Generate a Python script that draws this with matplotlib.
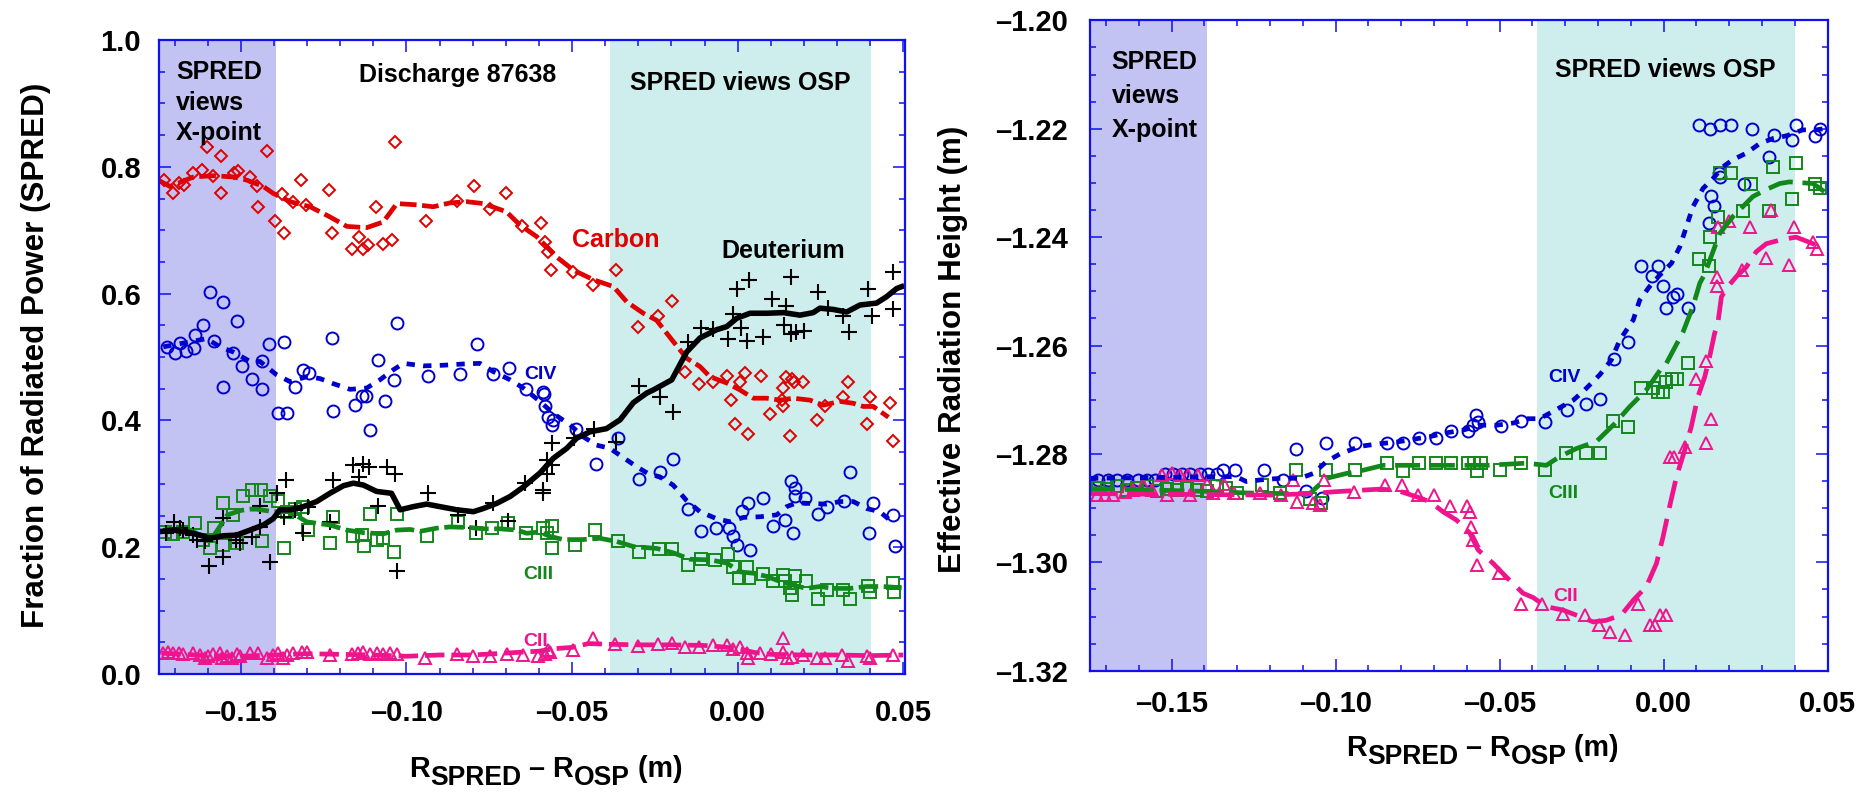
import matplotlib
matplotlib.use('Agg')
import matplotlib.pyplot as plt
from matplotlib.ticker import MultipleLocator

plt.rcParams['lines.scale_dashes'] = False
NARROW = ['Liberation Sans Narrow', 'Liberation Sans', 'DejaVu Sans']
REG = ['Liberation Sans', 'DejaVu Sans']

# ---------------- data: left panel (fraction of radiated power) ----------------
carbon_x = [-0.1732,-0.1706,-0.1688,-0.1670,-0.1643,-0.1618,-0.1601,-0.1585,-0.1561,-0.1560,-0.1522,-0.1507,-0.1472,-0.1450,-0.1449,-0.1422,-0.1397,-0.1375,-0.1371,-0.1341,-0.1318,-0.1303,-0.1234,-0.1224,-0.1165,-0.1142,-0.1132,-0.1117,-0.1091,-0.1070,-0.1043,-0.1034,-0.0941,-0.0848,-0.0796,-0.0748,-0.0699,-0.0650,-0.0594,-0.0582,-0.0574,-0.0565,-0.0498,-0.0436,-0.0368,-0.0302,-0.0240,-0.0199,-0.0159,-0.0116,-0.0076,-0.0033,0.0007,0.0022,0.0070,-0.0020,-0.0008,0.0032,0.0097,0.0133,0.0138,0.0138,0.0146,0.0163,0.0170,0.0198,0.0158,0.0238,0.0263,0.0317,0.0332,0.0389,0.0399,0.0460,0.0468]
carbon_y = [0.779,0.759,0.774,0.771,0.790,0.795,0.831,0.786,0.817,0.758,0.790,0.794,0.784,0.769,0.736,0.825,0.715,0.757,0.696,0.744,0.779,0.739,0.763,0.696,0.671,0.689,0.671,0.677,0.736,0.678,0.685,0.839,0.715,0.746,0.770,0.733,0.758,0.706,0.712,0.682,0.666,0.637,0.634,0.614,0.637,0.548,0.565,0.588,0.477,0.457,0.460,0.470,0.460,0.474,0.470,0.432,0.394,0.378,0.410,0.432,0.451,0.422,0.469,0.466,0.461,0.461,0.375,0.401,0.422,0.437,0.461,0.394,0.437,0.427,0.368]
carbon_fit_x = [-0.1749,-0.1714,-0.1643,-0.1583,-0.1522,-0.1482,-0.1432,-0.1402,-0.1351,-0.1291,-0.1231,-0.1180,-0.1120,-0.1070,-0.1029,-0.0969,-0.0919,-0.0869,-0.0818,-0.0768,-0.0698,-0.0657,-0.0607,-0.0547,-0.0496,-0.0436,-0.0375,-0.0335,-0.0285,-0.0245,-0.0194,-0.0154,-0.0114,-0.0084,-0.0033,0.0007,0.0047,0.0087,0.0128,0.0168,0.0218,0.0258,0.0309,0.0349,0.0379,0.0409,0.0455]
carbon_fit_y = [0.779,0.769,0.784,0.786,0.784,0.779,0.769,0.758,0.745,0.737,0.721,0.706,0.704,0.713,0.742,0.740,0.737,0.743,0.745,0.742,0.729,0.708,0.690,0.658,0.637,0.622,0.611,0.587,0.569,0.558,0.524,0.498,0.485,0.469,0.459,0.448,0.435,0.435,0.432,0.435,0.432,0.424,0.430,0.427,0.422,0.422,0.405]

civ_x = [-0.1724,-0.1699,-0.1683,-0.1665,-0.1640,-0.1638,-0.1613,-0.1593,-0.1581,-0.1555,-0.1523,-0.1510,-0.1437,-0.1414,-0.1370,-0.1226,-0.1027,-0.0788,-0.0690,
         -0.1497,-0.1465,-0.1437,-0.1555,-0.1389,-0.1361,-0.1336,-0.1311,-0.1294,-0.1221,-0.1155,-0.1135,-0.1122,-0.1110,-0.1085,-0.1065,-0.1039,-0.0936,-0.0838,-0.0738,-0.0640,-0.0589,-0.0584,-0.0582,-0.0572,-0.0557,-0.0562,-0.0489,-0.0428,-0.0362,-0.0298,
         -0.0235,-0.0196,-0.0149,-0.0111,-0.0066,-0.0027,-0.0013,-0.0003,0.0037,0.0012,0.0030,0.0077,0.0107,0.0143,0.0166,0.0160,0.0173,0.0173,0.0203,0.0243,0.0270,0.0321,0.0339,0.0397,0.0407,0.0470,0.0475]
civ_y = [0.516,0.506,0.522,0.510,0.514,0.534,0.551,0.603,0.526,0.586,0.507,0.556,0.493,0.520,0.523,0.530,0.553,0.520,0.482,
         0.486,0.465,0.449,0.452,0.412,0.412,0.452,0.480,0.474,0.415,0.424,0.439,0.439,0.385,0.495,0.430,0.463,0.470,0.473,0.473,0.449,0.445,0.441,0.422,0.406,0.401,0.393,0.386,0.331,0.372,0.308,
         0.318,0.339,0.260,0.226,0.230,0.230,0.217,0.203,0.196,0.257,0.270,0.277,0.233,0.243,0.223,0.304,0.293,0.280,0.277,0.253,0.264,0.273,0.318,0.223,0.270,0.251,0.202]
civ_fit_x = [-0.1734,-0.1673,-0.1603,-0.1563,-0.1523,-0.1472,-0.1442,-0.1392,-0.1351,-0.1301,-0.1261,-0.1221,-0.1170,-0.1120,-0.1080,-0.1039,-0.1009,-0.0949,-0.0889,-0.0828,-0.0778,-0.0738,-0.0687,-0.0647,-0.0597,-0.0557,-0.0506,-0.0466,-0.0426,-0.0386,-0.0350,-0.0305,-0.0270,-0.0235,-0.0195,-0.0155,-0.0114,-0.0064,-0.0023,0.0017,0.0067,0.0118,0.0148,0.0178,0.0218,0.0268,0.0309,0.0349,0.0389,0.0429,0.0470]
civ_fit_y = [0.516,0.522,0.529,0.516,0.508,0.493,0.493,0.472,0.461,0.469,0.466,0.458,0.449,0.451,0.464,0.480,0.490,0.486,0.487,0.489,0.490,0.477,0.464,0.451,0.430,0.411,0.393,0.374,0.361,0.356,0.343,0.327,0.316,0.311,0.298,0.274,0.256,0.245,0.240,0.247,0.248,0.251,0.264,0.270,0.269,0.268,0.272,0.272,0.261,0.256,0.238]

deut_x = [-0.1726,-0.1702,-0.1684,-0.1673,-0.1643,-0.1633,-0.1608,-0.1595,-0.1573,-0.1555,-0.1553,-0.1514,-0.1502,-0.1467,-0.1442,-0.1442,-0.1413,-0.1391,-0.1363,-0.1371,-0.1336,-0.1311,-0.1296,-0.1221,-0.1231,-0.1160,-0.1130,-0.1142,-0.1112,-0.1085,-0.1060,-0.1036,-0.1029,-0.0936,-0.0843,-0.0790,-0.0740,-0.0692,-0.0642,-0.0587,-0.0589,-0.0577,-0.0577,-0.0562,-0.0562,-0.0493,-0.0433,-0.0366,-0.0298,
          -0.0235,-0.0196,-0.0151,-0.0111,-0.0074,-0.0028,-0.0013,-0.0003,0.0009,0.0027,0.0035,0.0075,0.0105,0.0141,0.0146,0.0161,0.0161,0.0176,0.0201,0.0243,0.0273,0.0319,0.0337,0.0394,0.0404,0.0470,0.0468]
deut_y = [0.222,0.239,0.230,0.227,0.219,0.211,0.209,0.170,0.217,0.184,0.246,0.212,0.206,0.216,0.265,0.232,0.177,0.286,0.306,0.247,0.259,0.222,0.264,0.306,0.239,0.330,0.332,0.311,0.327,0.265,0.326,0.316,0.163,0.285,0.251,0.230,0.269,0.241,0.301,0.290,0.285,0.316,0.337,0.330,0.365,0.372,0.386,0.366,0.454,
          0.437,0.414,0.523,0.545,0.544,0.529,0.568,0.608,0.545,0.526,0.622,0.532,0.591,0.551,0.580,0.626,0.536,0.540,0.541,0.602,0.577,0.564,0.540,0.607,0.564,0.634,0.575]
deut_fit_x = [-0.1739,-0.1704,-0.1663,-0.1623,-0.1593,-0.1553,-0.1513,-0.1472,-0.1432,-0.1402,-0.1382,-0.1351,-0.1311,-0.1271,-0.1231,-0.1190,-0.1160,-0.1130,-0.1090,-0.1045,-0.1019,-0.0979,-0.0939,-0.0899,-0.0848,-0.0798,-0.0768,-0.0728,-0.0687,-0.0647,-0.0597,-0.0557,-0.0516,-0.0486,-0.0446,-0.0396,-0.0355,-0.0315,-0.0275,-0.0255,-0.0199,-0.0154,-0.0114,-0.0064,-0.0033,-0.0003,0.0037,0.0087,0.0138,0.0188,0.0228,0.0248,0.0288,0.0329,0.0369,0.0419,0.0449,0.0480,0.0495]
deut_fit_y = [0.225,0.227,0.224,0.219,0.214,0.218,0.219,0.227,0.235,0.245,0.259,0.259,0.264,0.272,0.285,0.297,0.301,0.298,0.288,0.285,0.259,0.264,0.268,0.264,0.259,0.256,0.261,0.269,0.280,0.295,0.317,0.340,0.356,0.372,0.382,0.387,0.401,0.428,0.443,0.448,0.464,0.508,0.530,0.543,0.548,0.561,0.569,0.569,0.570,0.566,0.570,0.577,0.575,0.571,0.582,0.585,0.595,0.608,0.611]

ciii_x = [-0.1729,-0.1704,-0.1673,-0.1638,-0.1613,-0.1593,-0.1581,-0.1555,-0.1553,-0.1523,-0.1510,-0.1494,-0.1467,-0.1439,-0.1437,-0.1412,-0.1387,-0.1369,-0.1361,-0.1336,-0.1311,-0.1296,-0.1231,-0.1221,-0.1160,-0.1135,-0.1127,-0.1110,-0.1090,-0.1070,-0.1039,-0.1027,-0.0937,-0.0843,-0.0790,-0.0741,-0.0692,-0.0640,-0.0589,-0.0562,-0.0577,-0.0560,-0.0491,-0.0431,-0.0362,-0.0298,
          -0.0237,-0.0197,-0.0151,-0.0112,-0.0070,-0.0028,-0.0013,0.0005,0.0027,0.0035,0.0075,0.0107,0.0138,0.0143,0.0158,0.0163,0.0173,0.0206,0.0243,0.0269,0.0317,0.0339,0.0394,0.0399,0.0470,0.0473]
ciii_y = [0.224,0.221,0.224,0.238,0.212,0.199,0.230,0.270,0.203,0.251,0.206,0.280,0.291,0.291,0.210,0.280,0.273,0.199,0.256,0.261,0.264,0.227,0.207,0.248,0.217,0.219,0.202,0.253,0.211,0.214,0.193,0.253,0.217,0.239,0.222,0.230,0.238,0.223,0.231,0.233,0.222,0.198,0.203,0.227,0.209,0.193,
          0.197,0.197,0.172,0.182,0.180,0.190,0.169,0.151,0.169,0.151,0.157,0.146,0.156,0.146,0.135,0.125,0.154,0.146,0.118,0.133,0.133,0.118,0.139,0.130,0.144,0.129]
ciii_fit_x = [-0.1734,-0.1694,-0.1653,-0.1623,-0.1583,-0.1540,-0.1500,-0.1472,-0.1452,-0.1402,-0.1351,-0.1301,-0.1231,-0.1180,-0.1130,-0.1070,-0.1029,-0.0989,-0.0959,-0.0909,-0.0869,-0.0808,-0.0768,-0.0718,-0.0667,-0.0637,-0.0597,-0.0567,-0.0526,-0.0471,-0.0416,-0.0365,-0.0315,-0.0244,-0.0194,-0.0144,-0.0084,-0.0033,0.0007,0.0047,0.0087,0.0128,0.0168,0.0208,0.0248,0.0288,0.0339,0.0389,0.0439,0.0495]
ciii_fit_y = [0.227,0.227,0.227,0.219,0.217,0.251,0.258,0.260,0.260,0.256,0.256,0.240,0.235,0.227,0.223,0.221,0.227,0.228,0.225,0.230,0.232,0.231,0.229,0.229,0.227,0.222,0.224,0.217,0.212,0.212,0.214,0.209,0.201,0.198,0.191,0.181,0.180,0.175,0.161,0.159,0.154,0.146,0.140,0.135,0.138,0.135,0.135,0.138,0.138,0.136]

cii_x = [-0.1734,-0.1719,-0.1704,-0.1688,-0.1673,-0.1643,-0.1623,-0.1608,-0.1598,-0.1583,-0.1563,-0.1558,-0.1543,-0.1528,-0.1512,-0.1502,-0.1472,-0.1447,-0.1422,-0.1402,-0.1387,-0.1372,-0.1361,-0.1341,-0.1316,-0.1301,-0.1231,-0.1165,-0.1145,-0.1130,-0.1110,-0.1090,-0.1070,-0.1050,-0.1029,-0.0944,-0.0848,-0.0798,-0.0748,-0.0697,-0.0647,-0.0602,-0.0582,-0.0572,-0.0567,-0.0496,-0.0436,-0.0370,-0.0300,
         -0.0240,-0.0199,-0.0159,-0.0116,-0.0074,-0.0033,-0.0013,0.0007,0.0027,0.0032,0.0067,0.0102,0.0136,0.0138,0.0148,0.0163,0.0198,0.0238,0.0263,0.0314,0.0334,0.0389,0.0399,0.0468]
cii_y = [0.033,0.035,0.033,0.033,0.031,0.033,0.030,0.025,0.028,0.032,0.033,0.025,0.029,0.025,0.032,0.028,0.033,0.033,0.025,0.030,0.033,0.025,0.030,0.033,0.035,0.034,0.030,0.031,0.033,0.035,0.032,0.033,0.031,0.033,0.031,0.025,0.031,0.028,0.029,0.032,0.030,0.028,0.031,0.038,0.035,0.038,0.056,0.047,0.044,
         0.048,0.049,0.043,0.043,0.046,0.046,0.040,0.043,0.033,0.025,0.033,0.032,0.056,0.035,0.025,0.027,0.030,0.025,0.025,0.030,0.021,0.028,0.025,0.030]
cii_fit_x = [-0.174,-0.16,-0.15,-0.14,-0.13,-0.12,-0.11,-0.10,-0.09,-0.08,-0.07,-0.06,-0.055,-0.05,-0.045,-0.04,-0.03,-0.02,-0.01,-0.005,0.0,0.005,0.01,0.02,0.03,0.04,0.05]
cii_fit_y = [0.033,0.029,0.028,0.030,0.032,0.031,0.030,0.028,0.030,0.030,0.033,0.036,0.040,0.042,0.048,0.047,0.046,0.046,0.045,0.043,0.040,0.034,0.031,0.030,0.030,0.029,0.030]

# ---------------- data: right panel (effective radiation height, m) ----------------
r_civ_x = [-0.1724,-0.1693,-0.1668,-0.1637,-0.1602,-0.1576,-0.1551,-0.1520,-0.1495,-0.1470,-0.1444,-0.1414,-0.1388,-0.1363,-0.1343,-0.1307,-0.1219,-0.1160,-0.1121,-0.1089,-0.1043,-0.1030,-0.0941,-0.0843,-0.0796,-0.0746,-0.0693,-0.0647,-0.0596,-0.0571,-0.0566,-0.0581,-0.0495,-0.0434,-0.0361,-0.0295,-0.0238,-0.0193,-0.0152,-0.0109,-0.0068,-0.0036,-0.0017,-0.0002,0.0008,0.0028,0.0041,0.0074,0.0138,0.0145,0.0152,0.0168,0.0173,0.0108,0.0140,0.0173,0.0204,0.0244,0.0270,0.0321,0.0335,0.0392,0.0404,0.0462,0.0477]
r_civ_y = [-1.2848,-1.2848,-1.2848,-1.2848,-1.2848,-1.2848,-1.2848,-1.2837,-1.2837,-1.2837,-1.2837,-1.2837,-1.2837,-1.2837,-1.2829,-1.2829,-1.2830,-1.2849,-1.2790,-1.2869,-1.2882,-1.2779,-1.2779,-1.2779,-1.2779,-1.2770,-1.2770,-1.2758,-1.2758,-1.2728,-1.2741,-1.2747,-1.2748,-1.2739,-1.2741,-1.2719,-1.2708,-1.2699,-1.2624,-1.2594,-1.2453,-1.2472,-1.2453,-1.2491,-1.2530,-1.2510,-1.2504,-1.2530,-1.2373,-1.2324,-1.2342,-1.2282,-1.2289,-1.2193,-1.2201,-1.2193,-1.2193,-1.2302,-1.2201,-1.2252,-1.2212,-1.2221,-1.2193,-1.2213,-1.2201]
r_civ_fit_x = [-0.1749,-0.1600,-0.1400,-0.1303,-0.1272,-0.1231,-0.1170,-0.1109,-0.1068,-0.1028,-0.0987,-0.0926,-0.0865,-0.0814,-0.0764,-0.0713,-0.0662,-0.0611,-0.0561,-0.0510,-0.0459,-0.0414,-0.0378,-0.0327,-0.0276,-0.0241,-0.0195,-0.0160,-0.0134,-0.0093,-0.0073,-0.0043,-0.0012,0.0024,0.0049,0.0069,0.0089,0.0120,0.0150,0.0181,0.0211,0.0252,0.0293,0.0333,0.0374,0.0424,0.0465,0.0496]
r_civ_fit_y = [-1.2845,-1.2844,-1.2842,-1.2842,-1.2851,-1.2848,-1.2845,-1.2845,-1.2836,-1.2814,-1.2800,-1.2786,-1.2781,-1.2778,-1.2773,-1.2768,-1.2761,-1.2756,-1.2747,-1.2747,-1.2743,-1.2735,-1.2735,-1.2718,-1.2701,-1.2682,-1.2654,-1.2627,-1.2590,-1.2553,-1.2516,-1.2491,-1.2470,-1.2448,-1.2418,-1.2381,-1.2344,-1.2310,-1.2292,-1.2270,-1.2257,-1.2245,-1.2227,-1.2218,-1.2213,-1.2202,-1.2202,-1.2199]

r_ciii_x = [-0.1724,-0.1698,-0.1668,-0.1637,-0.1607,-0.1576,-0.1546,-0.1515,-0.1485,-0.1454,-0.1424,-0.1393,-0.1363,-0.1333,-0.1302,-0.1226,-0.1170,-0.1121,-0.1079,-0.1046,-0.1031,-0.0941,-0.0843,-0.0796,-0.0747,-0.0693,-0.0649,-0.0596,-0.0579,-0.0569,-0.0556,-0.0498,-0.0434,-0.0361,-0.0297,-0.0238,-0.0193,-0.0154,-0.0109,-0.0068,-0.0033,-0.0017,-0.0002,0.0008,0.0026,0.0041,0.0074,0.0107,0.0138,0.0142,0.0166,0.0171,0.0204,0.0242,0.0267,0.0320,0.0333,0.0392,0.0404,0.0460,0.0477]
r_ciii_y = [-1.2862,-1.2865,-1.2860,-1.2866,-1.2862,-1.2860,-1.2868,-1.2865,-1.2866,-1.2862,-1.2866,-1.2868,-1.2860,-1.2862,-1.2872,-1.2857,-1.2873,-1.2830,-1.2884,-1.2890,-1.2830,-1.2829,-1.2817,-1.2831,-1.2817,-1.2817,-1.2817,-1.2817,-1.2817,-1.2831,-1.2817,-1.2830,-1.2817,-1.2830,-1.2798,-1.2798,-1.2798,-1.2739,-1.2750,-1.2679,-1.2679,-1.2685,-1.2685,-1.2667,-1.2661,-1.2661,-1.2633,-1.2441,-1.2453,-1.2400,-1.2362,-1.2281,-1.2282,-1.2352,-1.2302,-1.2352,-1.2270,-1.2330,-1.2263,-1.2302,-1.2310]
r_ciii_fit_x = [-0.1749,-0.1600,-0.1400,-0.1272,-0.1170,-0.1079,-0.1028,-0.0967,-0.0916,-0.0855,-0.0804,-0.0703,-0.0540,-0.0419,-0.0358,-0.0317,-0.0266,-0.0205,-0.0149,-0.0104,-0.0053,-0.0007,0.0008,0.0059,0.0089,0.0110,0.0125,0.0150,0.0171,0.0211,0.0272,0.0313,0.0354,0.0384,0.0455,0.0490]
r_ciii_fit_y = [-1.2864,-1.2866,-1.2869,-1.2872,-1.2873,-1.2873,-1.2845,-1.2836,-1.2830,-1.2821,-1.2821,-1.2821,-1.2821,-1.2817,-1.2821,-1.2805,-1.2790,-1.2777,-1.2744,-1.2713,-1.2682,-1.2642,-1.2633,-1.2575,-1.2528,-1.2485,-1.2468,-1.2427,-1.2393,-1.2362,-1.2325,-1.2312,-1.2301,-1.2298,-1.2301,-1.2316]

r_cii_x = [-0.1729,-0.1703,-0.1678,-0.1642,-0.1617,-0.1586,-0.1561,-0.1531,-0.1515,-0.1500,-0.1475,-0.1449,-0.1444,-0.1419,-0.1393,-0.1375,-0.1341,-0.1309,-0.1231,-0.1167,-0.1131,-0.1117,-0.1070,-0.1048,-0.1036,-0.0945,-0.0850,-0.0799,-0.0749,-0.0701,-0.0652,-0.0601,-0.0591,-0.0586,-0.0581,-0.0569,-0.0502,-0.0434,-0.0370,-0.0307,-0.0241,-0.0198,-0.0163,-0.0117,-0.0078,-0.0041,-0.0028,-0.0012,0.0008,0.0018,0.0030,0.0064,0.0097,0.0130,0.0130,0.0145,0.0162,0.0162,0.0239,0.0166,0.0199,0.0264,0.0313,0.0328,0.0382,0.0397,0.0455,0.0467]
r_cii_y = [-1.2876,-1.2876,-1.2876,-1.2870,-1.2867,-1.2857,-1.2867,-1.2838,-1.2876,-1.2836,-1.2838,-1.2838,-1.2876,-1.2838,-1.2855,-1.2873,-1.2855,-1.2873,-1.2873,-1.2876,-1.2848,-1.2888,-1.2890,-1.2894,-1.2848,-1.2870,-1.2857,-1.2857,-1.2876,-1.2876,-1.2897,-1.2897,-1.2908,-1.2934,-1.2959,-1.3005,-1.3019,-1.3077,-1.3077,-1.3096,-1.3097,-1.3116,-1.3128,-1.3134,-1.3077,-1.3116,-1.3116,-1.3097,-1.3097,-1.2805,-1.2805,-1.2787,-1.2662,-1.2628,-1.2779,-1.2736,-1.2473,-1.2491,-1.2461,-1.2381,-1.2370,-1.2382,-1.2439,-1.2350,-1.2452,-1.2381,-1.2409,-1.2421]
r_cii_fit_x = [-0.1749,-0.1600,-0.1400,-0.1200,-0.1070,-0.1008,-0.0926,-0.0865,-0.0814,-0.0754,-0.0713,-0.0672,-0.0632,-0.0591,-0.0566,-0.0520,-0.0480,-0.0429,-0.0398,-0.0358,-0.0307,-0.0256,-0.0215,-0.0175,-0.0129,-0.0093,-0.0053,-0.0022,-0.0002,0.0018,0.0039,0.0064,0.0084,0.0104,0.0125,0.0140,0.0155,0.0165,0.0176,0.0196,0.0221,0.0252,0.0282,0.0313,0.0363,0.0404,0.0455,0.0490]
r_cii_fit_y = [-1.2873,-1.2874,-1.2875,-1.2876,-1.2873,-1.2870,-1.2867,-1.2865,-1.2867,-1.2879,-1.2888,-1.2907,-1.2922,-1.2946,-1.2977,-1.3002,-1.3027,-1.3057,-1.3065,-1.3082,-1.3088,-1.3100,-1.3110,-1.3107,-1.3097,-1.3070,-1.3045,-1.3002,-1.2953,-1.2897,-1.2842,-1.2793,-1.2750,-1.2695,-1.2658,-1.2621,-1.2578,-1.2559,-1.2510,-1.2491,-1.2473,-1.2455,-1.2427,-1.2412,-1.2404,-1.2400,-1.2412,-1.2424]

# ticks / regions
x_ticks = [-0.15, -0.10, -0.05, 0.00, 0.05]
x_tick_labels = ['\u20130.15', '\u20130.10', '\u20130.05', '0.00', '0.05']
left_y_ticks = [0.0, 0.2, 0.4, 0.6, 0.8, 1.0]
left_y_labels = ['0.0', '0.2', '0.4', '0.6', '0.8', '1.0']
right_y_ticks = [-1.32, -1.30, -1.28, -1.26, -1.24, -1.22, -1.20]
right_y_labels = ['\u20131.32', '\u20131.30', '\u20131.28', '\u20131.26', '\u20131.24', '\u20131.22', '\u20131.20']
xpoint_region = -0.1393
osp_region = (-0.0386, 0.0401)

# ---------------- styling ----------------
RED = '#e00000'
BLUE = '#0000cc'
GREEN = '#13881a'
PINK = '#f0148c'
BLACK = '#000000'
LAV = '#c3c3f3'
CYAN = '#cdeeed'
SPINE = '#1010f0'

W, H = 1870, 793
fig = plt.figure(figsize=(W / 100, H / 100), dpi=100)


def axrect(l, r, t, b):
    return [l / W, (H - b) / H, (r - l) / W, (b - t) / H]


ax1 = fig.add_axes(axrect(159.3, 905, 40, 674))
ax2 = fig.add_axes(axrect(1090, 1827.7, 20.4, 670.7))


def style(ax, xlim, ylim, yticks, ylabels, yminor, xpad, ypad):
    ax.set_xlim(*xlim)
    ax.set_ylim(*ylim)
    ax.set_xticks(x_ticks)
    ax.set_xticklabels(x_tick_labels)
    ax.set_yticks(yticks)
    ax.set_yticklabels(ylabels)
    ax.xaxis.set_minor_locator(MultipleLocator(0.01))
    ax.yaxis.set_minor_locator(MultipleLocator(yminor))
    for s in ax.spines.values():
        s.set_color(SPINE)
        s.set_linewidth(1.6)
        s.set_zorder(5)
    ax.tick_params(which='both', direction='in', top=True, right=True,
                   color=SPINE, width=1.1)
    ax.tick_params(which='major', length=8.5)
    ax.tick_params(which='minor', length=4.5)
    ax.tick_params(axis='x', which='major', pad=xpad, labelsize=21)
    ax.tick_params(axis='y', which='major', pad=ypad, labelsize=21)
    for lab in ax.get_xticklabels() + ax.get_yticklabels():
        lab.set_fontweight('bold')
        lab.set_family(REG)
    ax.axvspan(xlim[0], xpoint_region, color=LAV, lw=0, zorder=0)
    ax.axvspan(osp_region[0], osp_region[1], color=CYAN, lw=0, zorder=0)


style(ax1, (-0.1746, 0.0505), (0.0, 1.0), left_y_ticks, left_y_labels, 0.05, 18, 13)
style(ax2, (-0.1749, 0.0499), (-1.32, -1.20), right_y_ticks, right_y_labels, 0.005, 14, 16)

LW = 3.4
MS = dict(linestyle='none', mfc='none', mew=1.4, zorder=3)


def series(ax, x, y, fx, fy, color, marker, ms, dashes):
    ax.plot(x, y, marker=marker, mec=color, ms=ms, **MS)
    ax.plot(fx, fy, color=color, lw=LW, dashes=dashes, dash_capstyle='butt', zorder=4)


series(ax1, carbon_x, carbon_y, carbon_fit_x, carbon_fit_y, RED, 'D', 6.3, (12, 4))
series(ax1, civ_x, civ_y, civ_fit_x, civ_fit_y, BLUE, 'o', 8.6, (6, 6))
series(ax1, ciii_x, ciii_y, ciii_fit_x, ciii_fit_y, GREEN, 's', 8.0, (14, 4))
series(ax1, cii_x, cii_y, cii_fit_x, cii_fit_y, PINK, '^', 8.5, (14, 5))
ax1.plot(deut_x, deut_y, marker='+', mec=BLACK, ms=11, linestyle='none', mew=1.5, zorder=3)
ax1.plot(deut_fit_x, deut_fit_y, color=BLACK, lw=LW + 0.6, zorder=4)

series(ax2, r_civ_x, r_civ_y, r_civ_fit_x, r_civ_fit_y, BLUE, 'o', 8.6, (6, 6))
series(ax2, r_ciii_x, r_ciii_y, r_ciii_fit_x, r_ciii_fit_y, GREEN, 's', 8.0, (18, 7))
series(ax2, r_cii_x, r_cii_y, r_cii_fit_x, r_cii_fit_y, PINK, '^', 8.5, (20, 8))

# ---------------- annotations ----------------
BIG = 18
SMALL = 14


def atext(ax, x, y, s, size, color=BLACK, ha='left'):
    ax.text(x, y, s, transform=ax.transAxes, fontsize=size, fontweight='bold',
            family=NARROW, color=color, ha=ha, va='baseline', zorder=6)


for s, yy in zip(['SPRED', 'views', 'X-point'], [0.9385, 0.8896, 0.8423]):
    atext(ax1, 0.0224, yy, s, BIG)
atext(ax1, 0.4006, 0.9338, 'Discharge 87638', BIG, ha='center')
atext(ax1, 0.7796, 0.9211, 'SPRED views OSP', BIG, ha='center')
atext(ax1, 0.6121, 0.6730, 'Carbon', BIG, RED, ha='center')
atext(ax1, 0.8364, 0.6557, 'Deuterium', BIG, ha='center')
atext(ax1, 0.5116, 0.4653, 'CIV', SMALL, BLUE, ha='center')
atext(ax1, 0.5081, 0.1494, 'CIII', SMALL, GREEN, ha='center')
atext(ax1, 0.5049, 0.0442, 'CII', SMALL, PINK, ha='center')

for s, yy in zip(['SPRED', 'views', 'X-point'], [0.9253, 0.8734, 0.8212]):
    atext(ax2, 0.0294, yy, s, BIG)
atext(ax2, 0.7792, 0.9134, 'SPRED views OSP', BIG, ha='center')
atext(ax2, 0.6428, 0.4444, 'CIV', SMALL, BLUE, ha='center')
atext(ax2, 0.6416, 0.2651, 'CIII', SMALL, GREEN, ha='center')
atext(ax2, 0.6448, 0.1076, 'CII', SMALL, PINK, ha='center')

# y labels
fig.text(35.8 / W, (H - 355) / H, 'Fraction of Radiated Power (SPRED)', rotation=90,
         fontsize=22.6, fontweight='bold', family=NARROW, ha='center', va='center')
fig.text(952.5 / W, (H - 349) / H, 'Effective Radiation Height (m)', rotation=90,
         fontsize=22.6, fontweight='bold', family=NARROW, ha='center', va='center')


# x labels with subscripts (chained text pieces)
def xlabel(ax, x_px, bottom_px):
    main, sub, shift = 20.7, 19.1, 5.8
    kw = dict(fontweight='bold', family=NARROW, ha='left', va='bottom')
    t = fig.text(x_px / W, (H - bottom_px) / H, 'R', fontsize=main, **kw)
    pieces = [('SPRED', sub, -shift), (' \u2013 R', main, shift), ('OSP', sub, -shift), (' (m)', main, shift)]
    for s, size, dy in pieces:
        t = ax.annotate(s, xy=(1, 0), xycoords=t, xytext=(0, dy), textcoords='offset points',
                        fontsize=size, annotation_clip=False, **kw)


xlabel(ax1, 409, 783)
xlabel(ax2, 1346, 762)

fig.savefig('out.png', dpi=100)
